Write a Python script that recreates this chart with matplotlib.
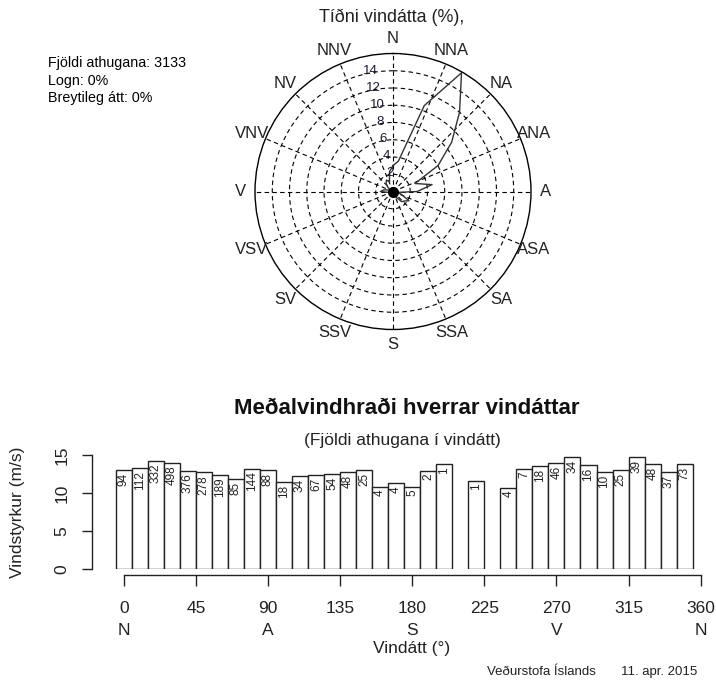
import numpy as np
import matplotlib
matplotlib.use("Agg")
import matplotlib.pyplot as plt

plt.rcParams['font.family'] = ['Liberation Sans', 'DejaVu Sans']

# ---------------- data ----------------
directions = [0, 10, 20, 30, 40, 50, 60, 70, 80, 90, 100, 110, 120, 130, 140, 150, 160, 170,
              180, 190, 200, 210, 220, 230, 240, 250, 260, 270, 280, 290, 300, 310, 320, 330, 340, 350]
counts = [94, 112, 332, 498, 376, 278, 189, 85, 144, 88, 18, 34, 67, 54, 48, 25, 4, 4,
          5, 2, 1, 0, 1, 0, 4, 7, 18, 46, 34, 16, 10, 25, 39, 48, 37, 73]
mean_speed = [13.0, 13.25, 14.25, 14.0, 12.95, 12.75, 12.4, 11.85, 13.2, 13.0, 11.45, 12.2,
              12.4, 12.55, 12.75, 13.05, 10.85, 11.3, 10.85, 12.95, 13.8, np.nan, 11.65, np.nan,
              10.7, 13.2, 13.55, 14.0, 14.75, 13.75, 12.75, 13.05, 14.75, 13.8, 12.8, 13.8]
n_total = 3133
ring_values = [2, 4, 6, 8, 10, 12, 14]
compass = ['N', 'NNA', 'NA', 'ANA', 'A', 'ASA', 'SA', 'SSA',
           'S', 'SSV', 'SV', 'VSV', 'V', 'VNV', 'NV', 'NNV']
xticks = [0, 45, 90, 135, 180, 225, 270, 315, 360]
xtick_letters = ['N', '', 'A', '', 'S', '', 'V', '', 'N']
yticks = [0, 5, 10, 15]

W, H = 716, 684
fig = plt.figure(figsize=(W / 100, H / 100), dpi=100)

def fx(px):
    return px / W

def fy(py):
    return 1 - py / H

# ---------------- wind rose ----------------
cx, cy, R = 393, 191.5, 138
axp = fig.add_axes([fx(cx - R), fy(cy + R), 2 * R / W, 2 * R / H], projection='polar')
axp.set_theta_zero_location('N')
axp.set_theta_direction(-1)
rmax = 16
axp.set_ylim(0, rmax)
axp.grid(False)
axp.set_xticks([])
axp.set_yticks([])
axp.spines['polar'].set_color('black')
axp.spines['polar'].set_linewidth(1.0)
axp.patch.set_alpha(0)

th = np.linspace(0, 2 * np.pi, 400)
for rv in ring_values:
    axp.plot(th, np.full_like(th, rv), color='black', lw=0.8, ls=(0, (4, 3)))
for i in range(16):
    a = np.deg2rad(i * 22.5)
    axp.plot([a, a], [0, rmax], color='black', lw=0.8, ls=(0, (4, 3)))
for i, lab in enumerate(compass):
    axp.text(np.deg2rad(i * 22.5), 17.7, lab, ha='center', va='center', fontsize=12,
             clip_on=False, color='#222222')
for rv in ring_values:
    axp.text(np.deg2rad(-10.5), rv + 0.2, str(rv), ha='center', va='center', fontsize=9.5,
             color='#1a1a2e', clip_on=False)

freq = np.array(counts) / n_total * 100
theta = np.deg2rad(directions + [directions[0]])
rr = np.append(freq, freq[0])
axp.plot(theta, rr, color='#333333', lw=1.0)
axp.plot([0], [0], 'o', color='black', ms=7)

fig.text(fx(392), fy(17), 'Tíðni vindátta (%),', ha='center', va='center', fontsize=12.9, color='#222222')
fig.text(fx(48), fy(63), 'Fjöldi athugana: %d' % n_total, ha='left', va='center', fontsize=10.3)
fig.text(fx(48), fy(81), 'Logn: 0%', ha='left', va='center', fontsize=10.3)
fig.text(fx(48), fy(98), 'Breytileg átt: 0%', ha='left', va='center', fontsize=10.3)

# ---------------- bar chart ----------------
x0px, pxdeg = 123.7, (700.7 - 123.7) / 360
xl, xr = -20, 365
y0px, pxunit = 569.3, (569.3 - 455.0) / 15
ytop = 16.5
axb = fig.add_axes([fx(x0px + xl * pxdeg), fy(y0px), (xr - xl) * pxdeg / W, ytop * pxunit / H])
axb.set_xlim(xl, xr)
axb.set_ylim(0, ytop)
axb.patch.set_alpha(0)

for d, s, c in zip(directions, mean_speed, counts):
    if c == 0 or np.isnan(s):
        continue
    axb.bar(d, s, width=10, color='white', edgecolor='#222222', linewidth=1.0)
    axb.annotate(str(c), (d, s), xytext=(0, -2), textcoords='offset points', rotation=90,
                 ha='center', va='top', fontsize=8.5, color='#222222')

for sp in ['top', 'right']:
    axb.spines[sp].set_visible(False)
axb.spines['left'].set_bounds(0, 15)
axb.spines['bottom'].set_bounds(0, 360)
axb.spines['bottom'].set_position(('outward', 4.2))
for sp in ['left', 'bottom']:
    axb.spines[sp].set_color('#222222')
    axb.spines[sp].set_linewidth(1.0)

axb.set_xticks(xticks)
axb.set_xticklabels(['%d\n%s' % (t, l) for t, l in zip(xticks, xtick_letters)],
                    fontsize=12.5, linespacing=1.53, color='#222222')
axb.tick_params(axis='x', length=7.8, width=1.0, pad=11, color='#222222')
axb.set_yticks(yticks)
axb.set_yticklabels([str(t) for t in yticks], rotation=90, va='center', fontsize=12.5, color='#222222')
axb.tick_params(axis='y', length=7.2, width=1.0, pad=9, color='#222222')

fig.text(fx(407), fy(408), 'Meðalvindhraði hverrar vindáttar', ha='center', va='center',
         fontsize=16, fontweight='bold', color='#111111')
fig.text(fx(402), fy(440), '(Fjöldi athugana í vindátt)', ha='center', va='center', fontsize=12.5,
         color='#222222')
fig.text(fx(18), fy(512), 'Vindstyrkur (m/s)', rotation=90, ha='center', va='center', fontsize=12.5,
         color='#222222')
fig.text(fx(412), fy(648), 'Vindátt (°)', ha='center', va='center', fontsize=12.5, color='#222222')
fig.text(fx(487), fy(672), 'Veðurstofa Íslands', ha='left', va='center', fontsize=9.5, color='#222222')
fig.text(fx(697), fy(672), '11. apr. 2015', ha='right', va='center', fontsize=9.5, color='#222222')

fig.savefig('out.png', dpi=100)
